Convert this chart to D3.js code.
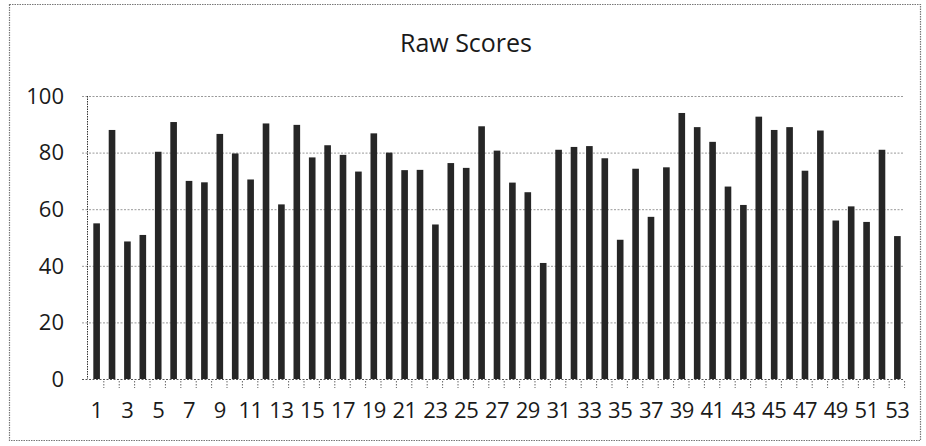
<!DOCTYPE html>
<html>
<head>
<meta charset="utf-8">
<script src="https://cdn.jsdelivr.net/npm/d3@7"></script>
<style>
  body { margin: 0; background: #fff; }
  svg { display: block; font-family: "Open Sans", sans-serif; }
</style>
</head>
<body>
<svg id="chart" width="926" height="446"></svg>
<script>
const title = "Raw Scores";
const students = d3.range(1, 54).map(String);
const scores = [55, 88, 48.6, 50.9, 80.3, 90.8, 70, 69.5, 86.6, 79.7,
  70.5, 90.3, 61.7, 89.8, 78.3, 82.6, 79.2, 73.3, 86.8, 80,
  73.8, 73.9, 54.6, 76.3, 74.6, 89.3, 80.7, 69.4, 66, 41,
  81, 82, 82.3, 78, 49.2, 74.3, 57.3, 74.8, 94, 89,
  83.8, 68, 61.5, 92.7, 88, 89, 73.6, 87.8, 56, 61,
  55.5, 81, 50.5];
const yTicks = [0, 20, 40, 60, 80, 100];
const xLabels = students.filter((d, i) => i % 2 === 0);

const svg = d3.select("#chart");

// outer chart border
svg.append("rect")
  .attr("x", 9.5).attr("y", 4.5)
  .attr("width", 911).attr("height", 436)
  .attr("fill", "none")
  .attr("stroke", "#777")
  .attr("stroke-width", 1.2)
  .attr("stroke-dasharray", "1.5,1");

svg.append("text")
  .attr("x", 466).attr("y", 52)
  .attr("text-anchor", "middle")
  .attr("font-size", 25)
  .attr("fill", "#1a1a1a")
  .text(title);

const x = d3.scaleBand().domain(students).range([89, 905]).paddingInner(0.57).paddingOuter(0.28);
const y = d3.scaleLinear().domain([0, 100]).range([379, 96]);

// gridlines
svg.append("g")
  .selectAll("line")
  .data(yTicks)
  .join("line")
  .attr("x1", 82).attr("x2", 903)
  .attr("y1", d => y(d) + 0.5).attr("y2", d => y(d) + 0.5)
  .attr("stroke", d => d === 0 ? "#555" : "#999")
  .attr("stroke-width", 1)
  .attr("stroke-dasharray", "2,1.5");

// y axis line
svg.append("line")
  .attr("x1", 87.5).attr("x2", 87.5)
  .attr("y1", y(100)).attr("y2", y(0))
  .attr("stroke", "#333")
  .attr("stroke-dasharray", "1.5,1");

// category tick marks below the axis
const step = x.step();
svg.append("g")
  .selectAll("line")
  .data(students)
  .join("line")
  .attr("x1", d => x(d) - (x.step() - x.bandwidth()) / 2 + step - 0.5)
  .attr("x2", d => x(d) - (x.step() - x.bandwidth()) / 2 + step - 0.5)
  .attr("y1", y(0) + 2).attr("y2", y(0) + 9)
  .attr("stroke", "#666")
  .attr("stroke-dasharray", "1.5,1.5");

// bars
svg.append("g")
  .selectAll("rect")
  .data(students)
  .join("rect")
  .attr("x", d => x(d))
  .attr("width", x.bandwidth())
  .attr("y", (d, i) => y(scores[i]))
  .attr("height", (d, i) => y(0) - y(scores[i]))
  .attr("fill", "#262626");

// y tick labels
svg.append("g")
  .selectAll("text")
  .data(yTicks)
  .join("text")
  .attr("x", 64)
  .attr("y", d => y(d))
  .attr("dy", "0.35em")
  .attr("text-anchor", "end")
  .attr("font-size", 22)
  .attr("fill", "#1a1a1a")
  .text(d => d);

// x tick labels (every other category)
svg.append("g")
  .selectAll("text")
  .data(xLabels)
  .join("text")
  .attr("x", d => x(d) + x.bandwidth() / 2)
  .attr("y", 410)
  .attr("dy", "0.35em")
  .attr("text-anchor", "middle")
  .attr("font-size", 22)
  .attr("letter-spacing", -0.5)
  .attr("fill", "#1a1a1a")
  .text(d => d);
</script>
</body>
</html>
